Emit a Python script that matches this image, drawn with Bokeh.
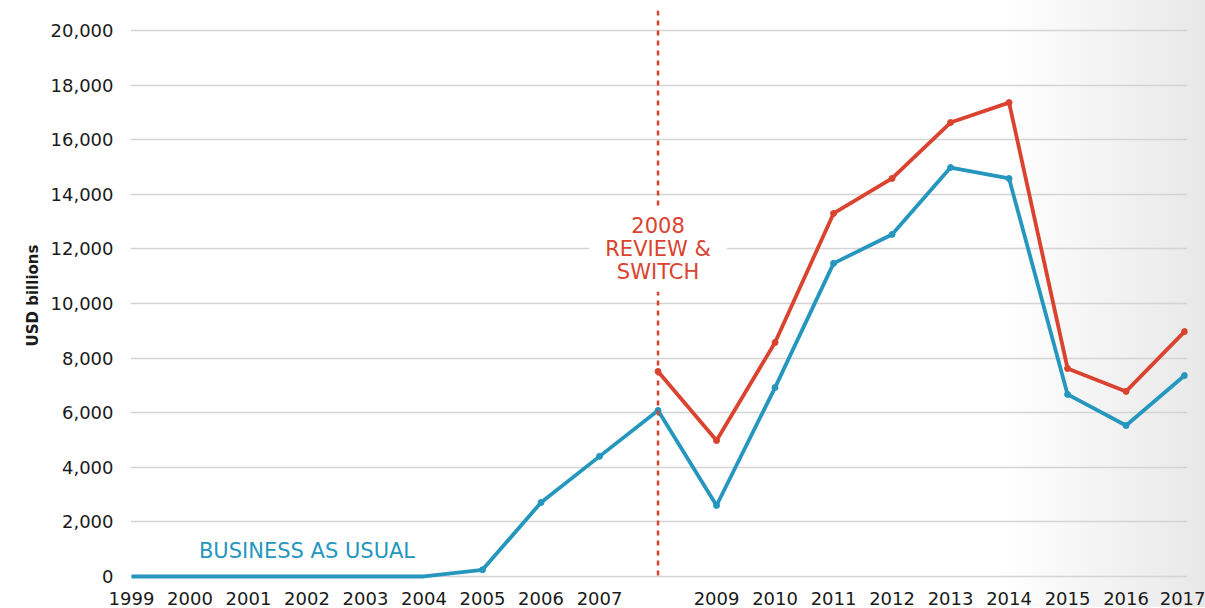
from bokeh.plotting import figure
from bokeh.models import Span, Label, FixedTicker, NumeralTickFormatter, Range1d
from bokeh.embed import file_html
from bokeh.resources import INLINE

# ---- data ----
years = list(range(1999, 2018))
business_as_usual = [0, 0, 0, 0, 0, 0, 245, 2710, 4400, 6080, 2600, 6920, 11470,
                     12530, 14980, 14580, 6670, 5530, 7360]
switch_years = list(range(2008, 2018))
review_switch = [7510, 4980, 8570, 13300, 14580, 16630, 17360, 7620, 6780, 8970]
marker_years = years[6:]
marker_bau = business_as_usual[6:]
x_tick_years = [y for y in years if y != 2008]
y_ticks = list(range(0, 20001, 2000))

BLUE = "#2596be"
RED = "#d9432f"
FONT = "DejaVu Sans"

p = figure(frame_width=1057, frame_height=570, output_backend="svg",
           toolbar_location=None, min_border_left=130, min_border_right=18,
           min_border_top=10, min_border_bottom=0,
           x_range=Range1d(1998.983, 2017.05), y_range=Range1d(-147, 20733))

p.background_fill_alpha = 0
p.border_fill_alpha = 0
p.outline_line_color = None
p.styles = {"background": "linear-gradient(to right, #ffffff 83%, #e8e8e8 100%)"}

p.xgrid.grid_line_color = None
p.ygrid.grid_line_color = "#d4d4d4"
p.ygrid.grid_line_width = 1.3
p.ygrid.ticker = FixedTicker(ticks=y_ticks)

p.xaxis.ticker = FixedTicker(ticks=x_tick_years)
p.yaxis.ticker = FixedTicker(ticks=y_ticks)
p.yaxis.formatter = NumeralTickFormatter(format="0,0")
for ax in (p.xaxis, p.yaxis):
    ax.axis_line_color = None
    ax.major_tick_line_color = None
    ax.minor_tick_line_color = None
    ax.major_label_text_font = FONT
    ax.major_label_text_font_size = "18px"
    ax.major_label_text_color = "#1a1a1a"
p.xaxis.major_label_standoff = 5
p.yaxis.major_label_standoff = 11
p.yaxis.axis_label = "USD billions"
p.yaxis.axis_label_text_font = FONT
p.yaxis.axis_label_text_font_size = "15px"
p.yaxis.axis_label_text_font_style = "bold"
p.yaxis.axis_label_text_color = "#1a1a1a"
p.yaxis.axis_label_standoff = 6

p.line(years, business_as_usual, line_color=BLUE, line_width=3.8)
p.scatter(marker_years, marker_bau, size=6, color=BLUE)
p.line(switch_years, review_switch, line_color=RED, line_width=3.8)
p.scatter(switch_years, review_switch, size=6, color=RED)

p.add_layout(Span(location=2008, dimension="height", line_color=RED,
                  line_width=2.5, line_dash="5 5"))
p.add_layout(Label(x=2008, y=12000, text="2008\nREVIEW &\nSWITCH",
                   text_align="center", text_baseline="middle",
                   text_font=FONT, text_font_size="21px", text_color=RED,
                   text_line_height=0.95,
                   background_fill_color="white", padding=(16, 8)))
p.add_layout(Label(x=2002, y=920, text="BUSINESS AS USUAL",
                   text_align="center", text_baseline="middle",
                   text_font=FONT, text_font_size="21px", text_color=BLUE))

open("out.html", "w").write(file_html(p, INLINE))
